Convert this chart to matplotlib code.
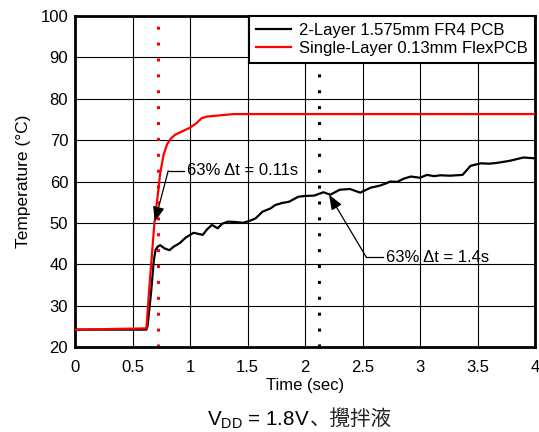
import matplotlib
matplotlib.use('Agg')
import matplotlib.pyplot as plt

# ---- data ----
time_fr4 = [0.0, 0.62, 0.63, 0.66, 0.685, 0.70, 0.72, 0.74, 0.78, 0.82, 0.86, 0.91, 0.96,
            1.03, 1.08, 1.11, 1.15, 1.19, 1.24, 1.28, 1.33, 1.40, 1.46, 1.52, 1.57, 1.63,
            1.70, 1.74, 1.80, 1.86, 1.94, 2.00, 2.08, 2.16, 2.22, 2.30, 2.39, 2.48, 2.57,
            2.65, 2.71, 2.74, 2.80, 2.86, 2.92, 3.00, 3.06, 3.12, 3.18, 3.26, 3.37, 3.44,
            3.53, 3.60, 3.67, 3.78, 3.90, 4.00]
temp_fr4 = [24.2, 24.2, 25.0, 33.0, 41.0, 43.5, 44.3, 44.6, 43.8, 43.4, 44.3, 45.1, 46.4,
            47.6, 47.3, 47.1, 48.5, 49.5, 48.7, 49.8, 50.3, 50.2, 50.0, 50.5, 51.1, 52.7,
            53.5, 54.3, 54.8, 55.1, 56.3, 56.5, 56.6, 57.4, 56.8, 58.0, 58.2, 57.3, 58.5,
            59.0, 59.6, 60.0, 59.9, 60.7, 61.2, 60.9, 61.6, 61.3, 61.5, 61.4, 61.6, 63.8,
            64.4, 64.3, 64.5, 65.0, 65.8, 65.6]

time_flex = [0.0, 0.62, 0.65, 0.69, 0.72, 0.74, 0.77, 0.80, 0.83, 0.87, 0.93, 1.00,
             1.06, 1.10, 1.15, 1.38, 4.00]
temp_flex = [24.2, 24.5, 36.0, 50.0, 57.0, 62.0, 66.5, 69.0, 70.3, 71.3, 72.1, 73.0,
             74.2, 75.3, 75.7, 76.3, 76.3]

tau_flex = 0.723
tau_fr4 = 2.12

labels = ['2-Layer 1.575mm FR4 PCB', 'Single-Layer 0.13mm FlexPCB']
xticks = [0, 0.5, 1, 1.5, 2, 2.5, 3, 3.5, 4]
xticklabels = ['0', '0.5', '1', '1.5', '2', '2.5', '3', '3.5', '4']
yticks = [20, 30, 40, 50, 60, 70, 80, 90, 100]

plt.rcParams['font.family'] = ['Liberation Sans', 'DejaVu Sans']

fig = plt.figure(figsize=(5.39, 4.32), dpi=100)
ax = fig.add_axes([75.1 / 539, 1 - 347 / 432, (535 - 75.1) / 539, (347 - 16) / 432])

ax.set_xlim(0, 4)
ax.set_ylim(20, 100)
ax.set_xticks(xticks)
ax.set_xticklabels(xticklabels)
ax.set_yticks(yticks)
ax.tick_params(length=0, labelsize=12, colors='black')
ax.tick_params(axis='x', pad=9.5)
ax.tick_params(axis='y', pad=5)
ax.grid(True, color='black', linewidth=0.8)
ax.set_axisbelow(True)
for s in ax.spines.values():
    s.set_linewidth(2)
    s.set_color('black')

ax.axvline(tau_flex, color='#ff0000', linewidth=2.2, linestyle=(0, (1, 4.2)),
           dash_capstyle='butt', zorder=2)
ax.axvline(tau_fr4, color='black', linewidth=2.2, linestyle=(0, (1, 4.2)),
           dash_capstyle='butt', zorder=2)

ax.plot(time_fr4, temp_fr4, color='black', linewidth=1.6, label=labels[0], zorder=3)
ax.plot(time_flex, temp_flex, color='#ff0000', linewidth=1.6, label=labels[1], zorder=3)

# annotations
ax.plot([0.81, 0.95], [62.6, 62.6], color='black', linewidth=0.9, zorder=4)
ax.annotate('', xy=(0.694, 50.3), xytext=(0.81, 62.6),
            arrowprops=dict(arrowstyle='-|>,head_length=0.9,head_width=0.35',
                            color='black', lw=0.9, shrinkA=0, shrinkB=0), zorder=4)
ax.text(0.97, 62.6, '63% \u0394t = 0.11s', fontsize=12, va='center', ha='left', zorder=4)

ax.plot([2.533, 2.68], [41.7, 41.7], color='black', linewidth=0.9, zorder=4)
ax.annotate('', xy=(2.209, 56.8), xytext=(2.533, 41.7),
            arrowprops=dict(arrowstyle='-|>,head_length=0.9,head_width=0.35',
                            color='black', lw=0.9, shrinkA=0, shrinkB=0), zorder=4)
ax.text(2.70, 41.7, '63% \u0394t = 1.4s', fontsize=12, va='center', ha='left', zorder=4)

ax.set_xlabel('Time (sec)', fontsize=12, labelpad=2)
ax.set_ylabel('Temperature (\u00b0C)', fontsize=12.5, labelpad=7)

leg = ax.legend(loc='upper right', fontsize=12, frameon=True, fancybox=False,
                borderaxespad=0, handlelength=2.1, handletextpad=0.5,
                labelspacing=0.2, borderpad=0.42)
leg.get_frame().set_edgecolor('black')
leg.get_frame().set_linewidth(1.5)
leg.get_frame().set_alpha(1)
leg.set_zorder(10)

# bottom caption
t1 = fig.text(207 / 539, 1 - 425 / 432, r'V$_{\mathregular{DD}}$ = 1.8V', fontsize=14.8,
              ha='left', va='baseline', family='Liberation Sans')
fig.canvas.draw()
bb = t1.get_window_extent()
fig.text(bb.x1 / 539, 1 - 425 / 432, '\u3001\u652a\u62cc\u6db2', fontsize=14.8,
         ha='left', va='baseline', family=['Noto Sans CJK JP'], color='#222222')

fig.savefig('out.png', dpi=100)
